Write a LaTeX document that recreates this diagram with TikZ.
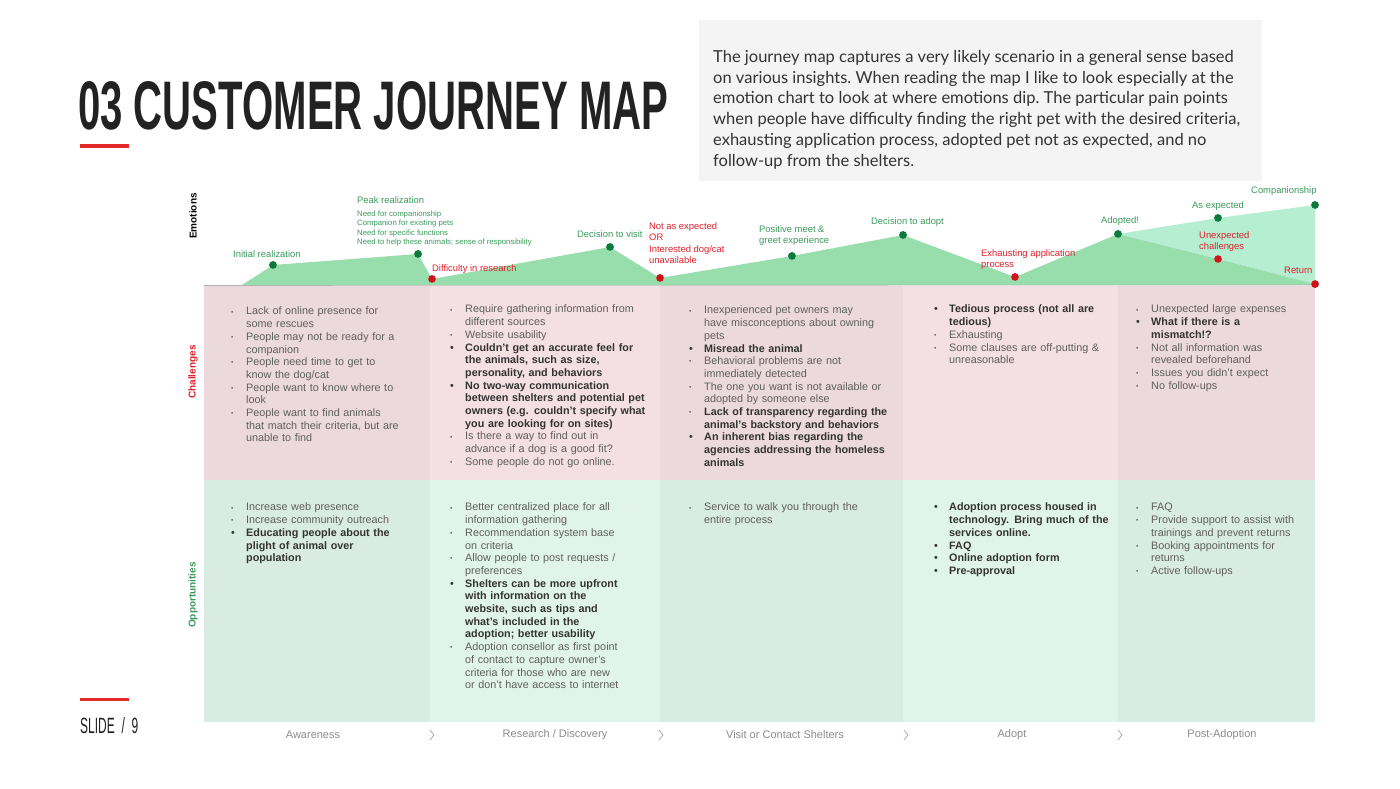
\documentclass[tikz,border=0pt]{standalone}
\usepackage{fontspec}
\setmainfont{Liberation Sans}
\newfontfamily\boxfont{Lato}
\definecolor{titlegray}{HTML}{222222}
\definecolor{redbar}{HTML}{E32B2B}
\definecolor{boxbg}{HTML}{F4F4F4}
\definecolor{boxtxt}{HTML}{333333}
\definecolor{pinkA}{HTML}{ECD9DD}
\definecolor{pinkB}{HTML}{F4DFE2}
\definecolor{mintA}{HTML}{D9ECE4}
\definecolor{mintB}{HTML}{E1F4EC}
\definecolor{emoA}{HTML}{97DEAC}
\definecolor{emoB}{HTML}{B5EED0}
\definecolor{dotgreen}{HTML}{0B7A3B}
\definecolor{dotred}{HTML}{D0131B}
\definecolor{labgreen}{HTML}{3A9A5C}
\definecolor{labred}{HTML}{E0202D}
\definecolor{txtgray}{HTML}{5E5E5E}
\definecolor{txtdark}{HTML}{333333}
\definecolor{stagegray}{HTML}{8C8C8C}
\newcommand\itm[1]{\par\noindent\hangindent=15pt\hangafter=1\hbox to 15pt{\color{txtgray}\raisebox{.8pt}{\scalebox{.6}{\textbullet}}\hfil}{\let\\\newline\color{txtgray}#1}\par}
\newcommand\bitm[1]{\par\noindent\hangindent=15pt\hangafter=1\hbox to 15pt{\color{txtdark}\textbullet\hfil}{\let\\\newline\bfseries\color{txtdark}#1}\par}
\begin{document}
\begin{tikzpicture}[x=1pt,y=-1pt,
  colnode/.style={anchor=north west, inner sep=0, text width=220pt, align=left,
    font=\fontsize{10.8}{12.7}\selectfont},
  gdot/.style={circle, fill=dotgreen, inner sep=0, minimum size=7.5pt},
  rdot/.style={circle, fill=dotred, inner sep=0, minimum size=7.5pt},
  glab/.style={inner sep=0, text=labgreen, font=\fontsize{9.4}{11.6}\selectfont, align=left},
  rlab/.style={inner sep=0, text=labred, font=\fontsize{9.4}{11.6}\selectfont, align=left},
  stage/.style={inner sep=0, text=stagegray, font=\fontsize{11}{13}\selectfont},
  rowlab/.style={inner sep=0, rotate=90, font=\bfseries\fontsize{10}{12}\selectfont},
  chev/.style={draw=stagegray!80, line width=0.7pt}
]
\useasboundingbox (0,0) rectangle (1400,788);
\fill[white] (0,0) rectangle (1400,788);

% title
\node[anchor=south west, inner sep=0, text=titlegray] (title) at (78,130)
  {\resizebox{590pt}{48pt}{\bfseries 03 CUSTOMER JOURNEY MAP}};
\fill[redbar] (80,144) rectangle (129,148);

% text box
\fill[boxbg] (699,20) rectangle (1262,181);
\node[anchor=north west, inner sep=0, text=boxtxt, align=left,
  font=\boxfont\frenchspacing\fontsize{16.5}{20.8}\selectfont] (intro) at (713,50)
 {The journey map captures a very likely scenario in a general sense based\\
  on various insights. When reading the map I like to look especially at the\\
  emotion chart to look at where emotions dip. The particular pain points\\
  when people have difficulty finding the right pet with the desired criteria,\\
  exhausting application process, adopted pet not as expected, and no\\
  follow-up from the shelters.};

% bands
\fill[pinkA] (204,286) rectangle (430,480);
\fill[pinkB] (430,286) rectangle (660,480);
\fill[pinkA] (660,286) rectangle (903,480);
\fill[pinkB] (903,286) rectangle (1118,480);
\fill[pinkA] (1118,286) rectangle (1315,480);
\fill[mintA] (204,480) rectangle (430,722);
\fill[mintB] (430,480) rectangle (660,722);
\fill[mintA] (660,480) rectangle (903,722);
\fill[mintB] (903,480) rectangle (1118,722);
\fill[mintA] (1118,480) rectangle (1315,722);

% emotion points
\coordinate (e0) at (242,285);
\coordinate (eEnd) at (1315,285);
\node[gdot] (e1) at (273,265) {};
\node[gdot] (e2) at (418,254) {};
\node[rdot] (e3) at (432,279) {};
\node[gdot] (e4) at (610,247) {};
\node[rdot] (e5) at (660,278) {};
\node[gdot] (e6) at (792,256) {};
\node[gdot] (e7) at (903,235) {};
\node[rdot] (e8) at (1015,277) {};
\node[gdot] (e9) at (1118,234) {};
\node[gdot] (e10) at (1218,218) {};
\node[rdot] (e11) at (1218,259) {};
\node[gdot] (e12) at (1315,205) {};
\node[rdot] (e13) at (1315,284) {};

\fill[emoB] (e9.center) -- (e10.center) -- (e12.center) -- (e13.center) -- (e11.center) -- cycle;
\fill[emoA] (e0) -- (e1.center) -- (e2.center) -- (e3.center) -- (e4.center) -- (e5.center)
  -- (e6.center) -- (e7.center) -- (e8.center) -- (e9.center) -- (e11.center) -- (e13.center)
  -- (eEnd) -- cycle;
\draw[color=black!30, line width=0.6pt] (204,285.5) -- (eEnd);
\foreach \n in {e1,e2,e4,e6,e7,e9,e10,e12} \fill[dotgreen] (\n) circle (3.8);
\foreach \n in {e3,e5,e8,e11,e13} \fill[dotred] (\n) circle (3.8);

% emotion labels
\node[glab, anchor=west] (l1) at (233,254) {Initial realization};
\node[glab, anchor=west] (l2) at (357,200) {Peak realization};
\node[glab, anchor=north west, font=\fontsize{7.75}{9.4}\selectfont] (l2b) at (357,210.5)
  {Need for companionship\\Companion for existing pets\\Need for specific functions\\Need to help these animals; sense of responsibility};
\node[rlab, anchor=west] (l3) at (432,269) {Difficulty in research};
\node[glab, anchor=west] (l4) at (577,234) {Decision to visit};
\node[rlab, anchor=north west] (l5) at (649,222) {Not as expected\\OR\\Interested dog/cat\\unavailable};
\node[glab, anchor=north west] (l6) at (759,225) {Positive meet \&\\greet experience};
\node[glab, anchor=west] (l7) at (871,222) {Decision to adopt};
\node[rlab, anchor=north west] (l8) at (981,249) {Exhausting application\\process};
\node[glab, anchor=west] (l9) at (1101,221) {Adopted!};
\node[glab, anchor=west] (l10) at (1192,206) {As expected};
\node[rlab, anchor=north west] (l11) at (1199,231) {Unexpected\\challenges};
\node[glab, anchor=west] (l12) at (1251,191) {Companionship};
\node[rlab, anchor=west] (l13) at (1284,270) {Return};

% row labels
\node[rowlab, text=black] (rEmo) at (193,216) {Emotions};
\node[rowlab, text=labred] (rCha) at (193,372) {Challenges};
\node[rowlab, text=labgreen] (rOpp) at (193,595) {Opportunities};

% challenges
\node[colnode] (c1) at (231,302) {
\itm{Lack of online presence for\\some rescues}
\itm{People may not be ready for a\\companion}
\itm{People need time to get to\\know the dog/cat}
\itm{People want to know where to\\look}
\itm{People want to find animals\\that match their criteria, but are\\unable to find}};
\node[colnode] (c2) at (450,300) {
\itm{Require gathering information from\\different sources}
\itm{Website usability}
\bitm{Couldn't get an accurate feel for\\the  animals, such as size,\\personality, and behaviors}
\bitm{No two-way communication\\between shelters and potential pet\\owners (e.g. couldn't specify what\\you are looking for on sites)}
\itm{Is there a way to find out in\\advance if a dog is a good fit?}
\itm{Some people do not go online.}};
\node[colnode] (c3) at (689,301) {
\itm{Inexperienced pet owners may\\have misconceptions about owning\\pets}
\bitm{Misread the animal}
\itm{Behavioral problems are not\\immediately detected}
\itm{The one you want is not available or\\adopted by someone else}
\itm{\bfseries\color{txtdark}Lack of transparency regarding the\\animal's backstory and behaviors}
\bitm{An inherent bias regarding the\\agencies addressing the homeless\\animals}};
\node[colnode] (c4) at (934,300) {
\bitm{Tedious process (not all are\\tedious)}
\itm{Exhausting}
\itm{Some clauses are off-putting \&\\unreasonable}};
\node[colnode] (c5) at (1136,300) {
\itm{Unexpected large expenses}
\bitm{What if there is a\\mismatch!?}
\itm{Not all information was\\revealed beforehand}
\itm{Issues you didn't expect}
\itm{No follow-ups}};

% opportunities
\node[colnode] (o1) at (231,498) {
\itm{Increase web presence}
\itm{Increase community outreach}
\bitm{Educating people about the\\plight of animal over\\population}};
\node[colnode] (o2) at (450,498) {
\itm{Better centralized place for all\\information gathering}
\itm{Recommendation system base\\on criteria}
\itm{Allow people to post requests /\\preferences}
\bitm{Shelters can be more upfront\\with information on the\\website, such as tips and\\what's included in the\\adoption; better usability}
\itm{Adoption consellor as first point\\of contact to capture owner's\\criteria for those who are new\\or don't have access to internet}};
\node[colnode] (o3) at (689,498) {
\itm{Service to walk you through the\\entire process}};
\node[colnode] (o4) at (934,498) {
\bitm{Adoption process housed in\\technology. Bring much of the\\services online.}
\bitm{FAQ}
\bitm{Online adoption form}
\bitm{Pre-approval}};
\node[colnode] (o5) at (1136,498) {
\itm{FAQ}
\itm{Provide support to assist with\\trainings and prevent returns}
\itm{Booking appointments for\\returns}
\itm{Active follow-ups}};

% stages
\node[stage] (s1) at (313,735) {Awareness};
\node[stage] (s2) at (555,735) {Research / Discovery};
\node[stage] (s3) at (785,735) {Visit or Contact Shelters};
\node[stage] (s4) at (1012,735) {Adopt};
\node[stage] (s5) at (1222,735) {Post-Adoption};
\foreach \cx in {432,661,906,1120}
  \draw[chev] (\cx-2,730) -- (\cx+2,735) -- (\cx-2,740);

% slide footer
\fill[redbar] (80,698) rectangle (129,701);
\node[anchor=south west, inner sep=0, text=titlegray] (slide) at (80,734)
  {\resizebox{58pt}{16pt}{SLIDE~~/~~9}};
\end{tikzpicture}
\end{document}
